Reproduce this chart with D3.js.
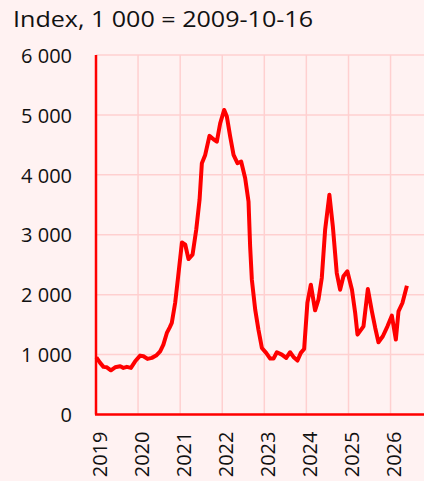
<!DOCTYPE html>
<html>
<head>
<meta charset="utf-8">
<script src="https://cdn.jsdelivr.net/npm/d3@7"></script>
<style>
    body { margin: 0; background: #fff2f2; }
    svg { display: block; font-family: "Open Sans", sans-serif; }
</style>
</head>
<body>
<svg id="vis-svg"></svg>
<script>
// index values
const dates = [
    "2019-01-04", "2019-02-06", "2019-03-07", "2019-04-05", "2019-05-10", "2019-06-16",
    "2019-07-30", "2019-08-27", "2019-09-26", "2019-10-31", "2019-12-07", "2020-01-19",
    "2020-02-17", "2020-03-23", "2020-04-30", "2020-06-06", "2020-07-11", "2020-08-08",
    "2020-09-07", "2020-10-01", "2020-10-20", "2020-11-18", "2020-12-14", "2021-01-16",
    "2021-02-14", "2021-03-14", "2021-04-18", "2021-05-20", "2021-06-18", "2021-07-08",
    "2021-08-06", "2021-09-12", "2021-10-17", "2021-11-15", "2021-12-14", "2022-01-18",
    "2022-02-10", "2022-03-11", "2022-04-09", "2022-05-13", "2022-06-14", "2022-07-19",
    "2022-08-17", "2022-08-31", "2022-09-15", "2022-10-14", "2022-11-11", "2022-12-11",
    "2023-01-17", "2023-02-21", "2023-03-22", "2023-04-20", "2023-06-02", "2023-07-10",
    "2023-08-13", "2023-09-11", "2023-10-16", "2023-11-14", "2023-12-13", "2024-01-10",
    "2024-02-09", "2024-03-17", "2024-04-15", "2024-05-14", "2024-06-12", "2024-07-19",
    "2024-08-18", "2024-09-21", "2024-10-20", "2024-11-18", "2024-12-22", "2025-01-31",
    "2025-02-28", "2025-03-20", "2025-05-11", "2025-06-18", "2025-07-23", "2025-08-21",
    "2025-09-18", "2025-10-26", "2025-12-05", "2026-01-12", "2026-02-16", "2026-03-11",
    "2026-04-14", "2026-05-23"
];
const values = [
    955, 862, 795, 788, 738, 788,
    805, 778, 795, 778, 888, 983,
    972, 928, 945, 983, 1055, 1167,
    1361, 1450, 1528, 1861, 2300, 2872,
    2833, 2594, 2667, 3083, 3583, 4194,
    4333, 4650, 4594, 4556, 4861, 5083,
    4972, 4639, 4333, 4194, 4222, 3944,
    3556, 2805, 2250, 1750, 1417, 1111,
    1028, 933, 933, 1039, 1000, 944,
    1039, 961, 900, 1028, 1094, 1861,
    2167, 1739, 1917, 2278, 3083, 3667,
    3139, 2361, 2083, 2306, 2389, 2083,
    1694, 1333, 1472, 2094, 1722, 1444,
    1206, 1306, 1472, 1650, 1250, 1722,
    1861, 2150
];
const yTicks = [0, 1000, 2000, 3000, 4000, 5000, 6000];
const xTicks = ["2019", "2020", "2021", "2022", "2023", "2024", "2025", "2026"];
const title = "Index, 1 000 = 2009-10-16";

const parseDate = d3.timeParse("%Y-%m-%d");
const parseYear = d3.timeParse("%Y");
const fmt = d3.formatLocale({ decimal: ",", thousands: " ", grouping: [3], currency: ["", ""] }).format(",d");

let data = dates.map((d, i) => ({ date: parseDate(d), value: values[i] }));

let svg = d3.select("#vis-svg")
    .attr("width", 424)
    .attr("height", 481);

let xScale = d3.scaleTime()
    .domain([parseYear("2019"), parseYear("2027")])
    .range([96, 432.6]);

let yScale = d3.scaleLinear()
    .domain([0, 6000])
    .range([414.5, 55]);

// grid
svg.append("g")
    .selectAll("line.hgrid")
    .data(yTicks)
    .enter()
        .append("line")
        .attr("x1", 96)
        .attr("x2", 424)
        .attr("y1", d => yScale(d))
        .attr("y2", d => yScale(d))
        .style("stroke", "#ffd0d0")
        .style("stroke-width", 1.5);

svg.append("g")
    .selectAll("line.vgrid")
    .data(xTicks)
    .enter()
        .append("line")
        .attr("x1", d => xScale(parseYear(d)))
        .attr("x2", d => xScale(parseYear(d)))
        .attr("y1", yScale(6000))
        .attr("y2", yScale(0))
        .style("stroke", "#ffd0d0")
        .style("stroke-width", 1.5);

// axes
let yAxis = d3.axisLeft(yScale)
    .tickValues(yTicks)
    .tickSize(0)
    .tickPadding(24)
    .tickFormat(fmt);

let xAxis = d3.axisBottom(xScale)
    .tickValues(xTicks.map(parseYear))
    .tickSize(0)
    .tickFormat(d3.timeFormat("%Y"));

svg.append("g")
    .attr("class", "yAxis")
    .attr("transform", "translate(96, 0)")
    .call(yAxis);

svg.append("g")
    .attr("class", "xAxis")
    .attr("transform", `translate(0, ${yScale(0)})`)
    .call(xAxis);

svg.selectAll(".yAxis, .xAxis").selectAll(".domain").remove();

svg.selectAll(".yAxis text, .xAxis text")
    .style("font-family", "'Open Sans', sans-serif")
    .style("font-size", "20px")
    .style("fill", "#111");

svg.selectAll(".yAxis text").attr("dy", "0.36em");

svg.select(".xAxis").selectAll("text")
    .attr("transform", "rotate(-90)")
    .attr("text-anchor", "end")
    .attr("x", -17)
    .attr("y", 0)
    .attr("dy", "0.5em");

// axis lines
svg.append("line")
    .attr("x1", 96).attr("x2", 96)
    .attr("y1", yScale(6000)).attr("y2", yScale(0))
    .style("stroke", "#ff0000")
    .style("stroke-width", 2.5);

svg.append("line")
    .attr("x1", 95).attr("x2", 424)
    .attr("y1", yScale(0)).attr("y2", yScale(0))
    .style("stroke", "#ff0000")
    .style("stroke-width", 2.5);

// series
let line = d3.line()
    .x(d => xScale(d.date))
    .y(d => yScale(d.value));

svg.append("path")
    .datum(data)
    .attr("d", line)
    .style("fill", "none")
    .style("stroke", "#ff0000")
    .style("stroke-width", 4)
    .style("stroke-linejoin", "round");

// title is set in a wider face in the original, so stretch it
svg.append("text")
    .attr("x", 13)
    .attr("y", 27)
    .attr("textLength", 300)
    .attr("lengthAdjust", "spacingAndGlyphs")
    .style("font-size", "21px")
    .style("fill", "#111")
    .text(title);
</script>
</body>
</html>
